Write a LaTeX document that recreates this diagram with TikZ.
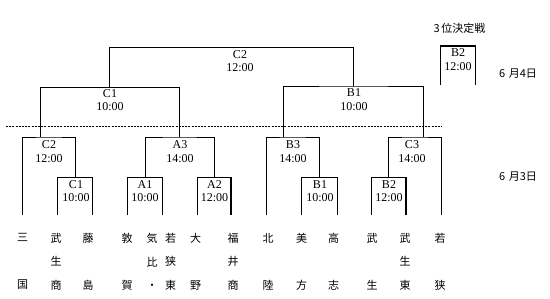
\documentclass[tikz,border=0pt]{standalone}
\usepackage{fontspec}
\setmainfont{Liberation Serif}
\newfontfamily\jp{Noto Sans CJK JP}
\begin{document}
\begin{tikzpicture}[x=1pt,y=-1pt,line join=miter,
  br/.style={line width=1pt},
  brk/.style={line width=1.4pt},
  lbl/.style={font=\fontsize{12}{13.5}\selectfont,align=center,inner sep=0pt},
  team/.style={font=\jp\fontsize{11}{23.5}\selectfont,align=center,inner sep=0pt},
  dt/.style={font=\jp\fontsize{11}{12}\selectfont,inner sep=0pt}]
\useasboundingbox (0,0) rectangle (550,298);
% leaf line ends
\coordinate (l1) at (22.7,215);
\coordinate (l2) at (57.7,215);
\coordinate (l3) at (92.3,215);
\coordinate (l4) at (127.3,215);
\coordinate (l5) at (162.7,215);
\coordinate (l6) at (197.3,215);
\coordinate (l7) at (231,215);
\coordinate (l8) at (266,215);
\coordinate (l9) at (301.7,215);
\coordinate (l10) at (337.3,215);
\coordinate (l11) at (371.7,215);
\coordinate (l12) at (406,215);
\coordinate (l13) at (441,215);
% first round tops
\coordinate (mC1) at (75,177.7);
\coordinate (mA1) at (145,177.7);
\coordinate (mA2) at (214.2,177.7);
\coordinate (mB1) at (319.5,177.7);
\coordinate (mB2) at (388.8,177.7);
\draw[brk] (l2) |- (mC1) -| (l3);
\draw[brk] (l4) |- (mA1) -| (l5);
\draw[brk] (l6) |- (mA2) -| (l7);
\draw[brk] (l9) |- (mB1) -| (l10);
\draw[brk] (l11) |- (mB2) -| (l12);
% second round tops
\coordinate (sC2) at (48.8,137);
\coordinate (sA3) at (179.6,137);
\coordinate (sB3) at (292.7,137);
\coordinate (sC3) at (414.9,137);
\draw[br] (l1) |- (sC2) -| (mC1);
\draw[br] (mA1) |- (sA3) -| (mA2);
\draw[br] (l8) |- (sB3) -| (mB1);
\draw[br] (mB2) |- (sC3) -| (l13);
% stems
\coordinate (tC2) at (40,137);
\coordinate (tA3) at (179.6,137);
\coordinate (tB3) at (283.3,137);
\coordinate (tC3) at (423.3,137);
\coordinate (qC1) at (109.5,87.3);
\coordinate (qB1) at (353.8,86);
\draw[br] (tC2) |- (qC1) -| (tA3);
\draw[br] (tB3) |- (qB1) -| (tC3);
\coordinate (fin) at (231.6,47.7);
\draw[br] (qC1) |- (fin) -| (qB1);
% third place box
\coordinate (tp1) at (440.7,85);
\coordinate (tp2) at (475.7,85);
\coordinate (tpTop) at (458.2,46);
\draw[line width=1.2pt] (tp1) |- (tpTop) -| (tp2);
% dotted day divider
\coordinate (d1) at (6,126);
\coordinate (d2) at (442,126);
\draw[line width=1pt,dash pattern=on 2pt off 1.2pt] (d1) -- (d2);
% match labels
\node[lbl] (nC2f) at (240,61) {C2\\12:00};
\node[lbl] (nC1) at (110,100) {C1\\10:00};
\node[lbl] (nB1) at (354,99.5) {B1\\10:00};
\node[lbl] (nC2s) at (49,151.5) {C2\\12:00};
\node[lbl] (nA3) at (180,151.5) {A3\\14:00};
\node[lbl] (nB3) at (293,151.5) {B3\\14:00};
\node[lbl] (nC3) at (412,151.5) {C3\\14:00};
\node[lbl] (nC1s) at (76,191) {C1\\10:00};
\node[lbl] (nA1) at (145,191) {A1\\10:00};
\node[lbl] (nA2) at (214.5,191) {A2\\12:00};
\node[lbl] (nB1s) at (320,191) {B1\\10:00};
\node[lbl] (nB2s) at (389,191) {B2\\12:00};
\node[lbl] (nB2t) at (458,59.5) {B2\\12:00};
% headings and dates
\node[dt] (third) at (459.5,28.3) {3\,位決定戦};
\node[dt] (day4) at (518,74) {6\,\,月4日};
\node[dt] (day3) at (518,177) {6\,\,月3日};
% teams
\node[team] (t1) at (22.7,261.5) {三\\\phantom{国}\\国};
\node[team] (t2) at (56,261.5) {武\\生\\商};
\node[team] (t3) at (88,261.5) {藤\\\phantom{国}\\島};
\node[team] (t4) at (127,261.5) {敦\\\phantom{国}\\賀};
\node[team] (t5) at (152,261.5) {気\\比\\・};
\node[team] (t6) at (170.5,261.5) {若\\狭\\東};
\node[team] (t7) at (195.5,261.5) {大\\\phantom{国}\\野};
\node[team] (t8) at (233,261.5) {福\\井\\商};
\node[team] (t9) at (268,261.5) {北\\\phantom{国}\\陸};
\node[team] (t10) at (301.7,261.5) {美\\\phantom{国}\\方};
\node[team] (t11) at (333.5,261.5) {高\\\phantom{国}\\志};
\node[team] (t12) at (372,261.5) {武\\\phantom{国}\\生};
\node[team] (t13) at (405,261.5) {武\\生\\東};
\node[team] (t14) at (440,261.5) {若\\\phantom{国}\\狭};
\end{tikzpicture}
\end{document}
